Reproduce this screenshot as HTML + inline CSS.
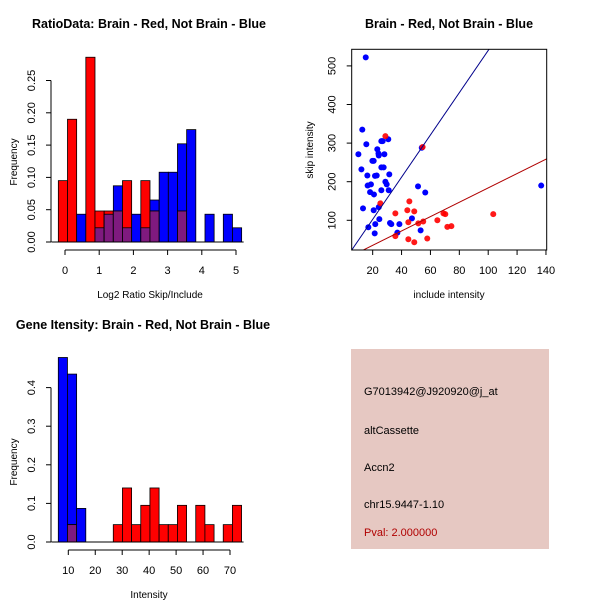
<!DOCTYPE html>
<html><head><meta charset="utf-8"><style>
body{margin:0;background:#fff}
svg{display:block;font-family:"Liberation Sans",sans-serif}
</style></head><body>
<svg id="s" width="600" height="600" viewBox="0 0 600 600">
<rect width="600" height="600" fill="#fff"/>
<g font-weight="bold" font-size="12.5" text-anchor="middle">
<text x="149" y="28">RatioData: Brain - Red, Not Brain - Blue</text>
<text x="449" y="28">Brain - Red, Not Brain - Blue</text>
<text x="143" y="329">Gene Itensity: Brain - Red, Not Brain - Blue</text>
</g>
<rect x="351" y="349" width="198" height="200" fill="#e6c8c2"/>
<g font-size="11">
<text x="364" y="395">G7013942@J920920@j_at</text>
<text x="364" y="434">altCassette</text>
<text x="364" y="471">Accn2</text>
<text x="364" y="508">chr15.9447-1.10</text>
<text x="364" y="536" fill="#b00000">Pval: 2.000000</text>
</g>
<g id="g1"></g><g id="g2"></g><g id="g3"></g>
</svg>
<script>
const ratioRed=[0.095,0.19,0,0.286,0.048,0.048,0.048,0.095,0,0.095,0.048,0,0,0.048,0,0,0,0,0,0];
const ratioBlue=[0,0,0.043,0,0.022,0.043,0.087,0.022,0.043,0.022,0.065,0.108,0.108,0.152,0.174,0,0.043,0,0.043,0.022];
const ratioBinStart=-0.195, ratioBinWidth=0.268;
const ratioXTicks=[0,1,2,3,4,5];
const ratioYTicks=["0.00","0.05","0.10","0.15","0.20","0.25"];
const geneRed=[0,0.045,0,0,0,0,0.045,0.14,0.045,0.095,0.14,0.045,0.045,0.095,0,0.095,0.045,0,0.045,0.095];
const geneBlue=[0.478,0.435,0.087,0,0,0,0,0,0,0,0,0,0,0,0,0,0,0,0,0];
const geneBinStart=6.29, geneBinWidth=3.4;
const geneXTicks=[10,20,30,40,50,60,70];
const geneYTicks=["0.0","0.1","0.2","0.3","0.4"];
const blueX=[15.2,12.8,10.1,15.6,12.2,16.3,16.5,18.8,18.2,20.9,19.8,20.7,23.2,24,24.2,26,26.9,30.8,28.1,26,27.6,31.5,21.6,22.8,28.8,29.7,26,31.1,13.3,20.7,24.2,24.6,21.8,21.4,17,32,32.9,38.5,37.1,47.2,51.4,56.4,53.2,136.7,54];
const blueY=[522,335,271,297,232,216,190,193,173,167,254,254,284,273,268,305,305,310,271,237,237,219,215,216,200,193,178,178,131,126,134,103,90,66,82,93,90,90,68,105,188,172,74,190,288];
const redX=[28.8,54.6,25.3,35.7,45.4,44,48.8,44.7,51.6,55,64.8,69,70.3,71.7,74.5,103.5,35.7,44.7,48.8,57.8];
const redY=[318,290,144,118,149,126,123,95,92,97,100,118,116,83,85,116,59,51,43,53];
const scatXTicks=[20,40,60,80,100,120,140];
const scatYTicks=[100,200,300,400,500];
const blueLine=[-7,5.47], redLine=[-2.1,1.86];
const NS="http://www.w3.org/2000/svg";
function mk(p,t,a){const e=document.createElementNS(NS,t);for(const k in a)e.setAttribute(k,a[k]);p.appendChild(e);return e;}
function hist(g,red,blue,bs,bw,sx,sy,xt,yt,x0,yb,yl,xl){
  red.forEach((v,i)=>{
    const b=blue[i],l=sx(bs+i*bw),r=sx(bs+(i+1)*bw);
    if(b>0){const e=mk(g,'rect',{x:l,y:sy(b),width:r-l,height:sy(0)-sy(b),fill:'#0000ff',stroke:'#000','stroke-width':0.8});
      
      }
    if(v>0){const e=mk(g,'rect',{x:l,y:sy(v),width:r-l,height:sy(0)-sy(v),fill:'#ff0000',stroke:'#000','stroke-width':0.8});
      
      }
    const m=Math.min(v,b);
    if(m>0){const e=mk(g,'rect',{x:l,y:sy(m),width:r-l,height:sy(0)-sy(m),fill:'#7f1a7f',stroke:'#000','stroke-width':0.8});
      
      }
  });
  mk(g,'line',{x1:sx(bs)-7,x2:sx(bs+20*bw)+2,y1:sy(0),y2:sy(0),stroke:'#000'});
  mk(g,'line',{x1:sx(xt[0]),x2:sx(xt[xt.length-1]),y1:yb,y2:yb,stroke:'#000'});
  xt.forEach(t=>{mk(g,'line',{x1:sx(t),x2:sx(t),y1:yb,y2:yb+5,stroke:'#000'});
    const e=mk(g,'text',{x:sx(t),y:yb+24,'font-size':11,'text-anchor':'middle'});e.textContent=t;
    
    });
  mk(g,'line',{x1:x0,x2:x0,y1:sy(0),y2:sy(+yt[yt.length-1]),stroke:'#000'});
  yt.forEach(t=>{const y=sy(+t);mk(g,'line',{x1:x0,x2:x0-5,y1:y,y2:y,stroke:'#000'});
    const e=mk(g,'text',{x:x0-16,y:y,'font-size':11,'text-anchor':'middle',transform:`rotate(-90 ${x0-16} ${y})`});e.textContent=t;
    
    });
  let e=mk(g,'text',{x:17,y:yl,'font-size':10,'text-anchor':'middle',transform:`rotate(-90 17 ${yl})`});e.textContent='Frequency';
  
  
  e=mk(g,'text',{x:xl[0],y:xl[1],'font-size':10,'text-anchor':'middle'});e.textContent=xl[2];
  
  
}
hist(document.getElementById('g1'),ratioRed,ratioBlue,ratioBinStart,ratioBinWidth,
  v=>65+v*34.2,v=>242-v*646,ratioXTicks,ratioYTicks,51,250,162,[150,298,'Log2 Ratio Skip/Include']);
hist(document.getElementById('g3'),geneRed,geneBlue,geneBinStart,geneBinWidth,
  v=>68.3+(v-10)*2.695,v=>542-v*386,geneXTicks,geneYTicks,51,550,462,[149,598,'Intensity']);
(function(){
  const g=document.getElementById('g2');
  const sx=v=>343.8+v*1.444, sy=v=>258.9-v*0.386;
  const X0=351.7,X1=546.7,Y0=49.3,Y1=250;
  const cp=mk(g,'clipPath',{id:'cp'});mk(cp,'rect',{x:X0,y:Y0,width:X1-X0,height:Y1-Y0});
  blueX.forEach((x,i)=>{const e=mk(g,'circle',{cx:sx(x),cy:sy(blueY[i]),r:3,fill:'#0000ff'});
    
    });
  redX.forEach((x,i)=>{const e=mk(g,'circle',{cx:sx(x),cy:sy(redY[i]),r:3,fill:'#ff0000','fill-opacity':0.9});
    
    });
  let e=mk(g,'line',{x1:sx(0),y1:sy(blueLine[0]),x2:sx(150),y2:sy(blueLine[0]+blueLine[1]*150),stroke:'#00008b','clip-path':'url(#cp)'});
  
  
  e=mk(g,'line',{x1:sx(0),y1:sy(redLine[0]),x2:sx(150),y2:sy(redLine[0]+redLine[1]*150),stroke:'#b00000','clip-path':'url(#cp)'});
  
  
  mk(g,'rect',{x:X0,y:Y0,width:X1-X0,height:Y1-Y0,fill:'none',stroke:'#000'});
  scatXTicks.forEach(t=>{mk(g,'line',{x1:sx(t),x2:sx(t),y1:Y1,y2:Y1+5,stroke:'#000'});
    const e=mk(g,'text',{x:sx(t),y:Y1+24,'font-size':11,'text-anchor':'middle'});e.textContent=t;
    
    });
  scatYTicks.forEach(t=>{const y=sy(t);mk(g,'line',{x1:X0,x2:X0-5,y1:y,y2:y,stroke:'#000'});
    const e=mk(g,'text',{x:X0-16,y:y,'font-size':11,'text-anchor':'middle',transform:`rotate(-90 ${X0-16} ${y})`});e.textContent=t;
    
    });
  e=mk(g,'text',{x:313,y:150,'font-size':10,'text-anchor':'middle',transform:'rotate(-90 313 150)'});e.textContent='skip intensity';
  
  
  e=mk(g,'text',{x:449,y:298,'font-size':10,'text-anchor':'middle'});e.textContent='include intensity';
  
  
})();
</script>
</body></html>
